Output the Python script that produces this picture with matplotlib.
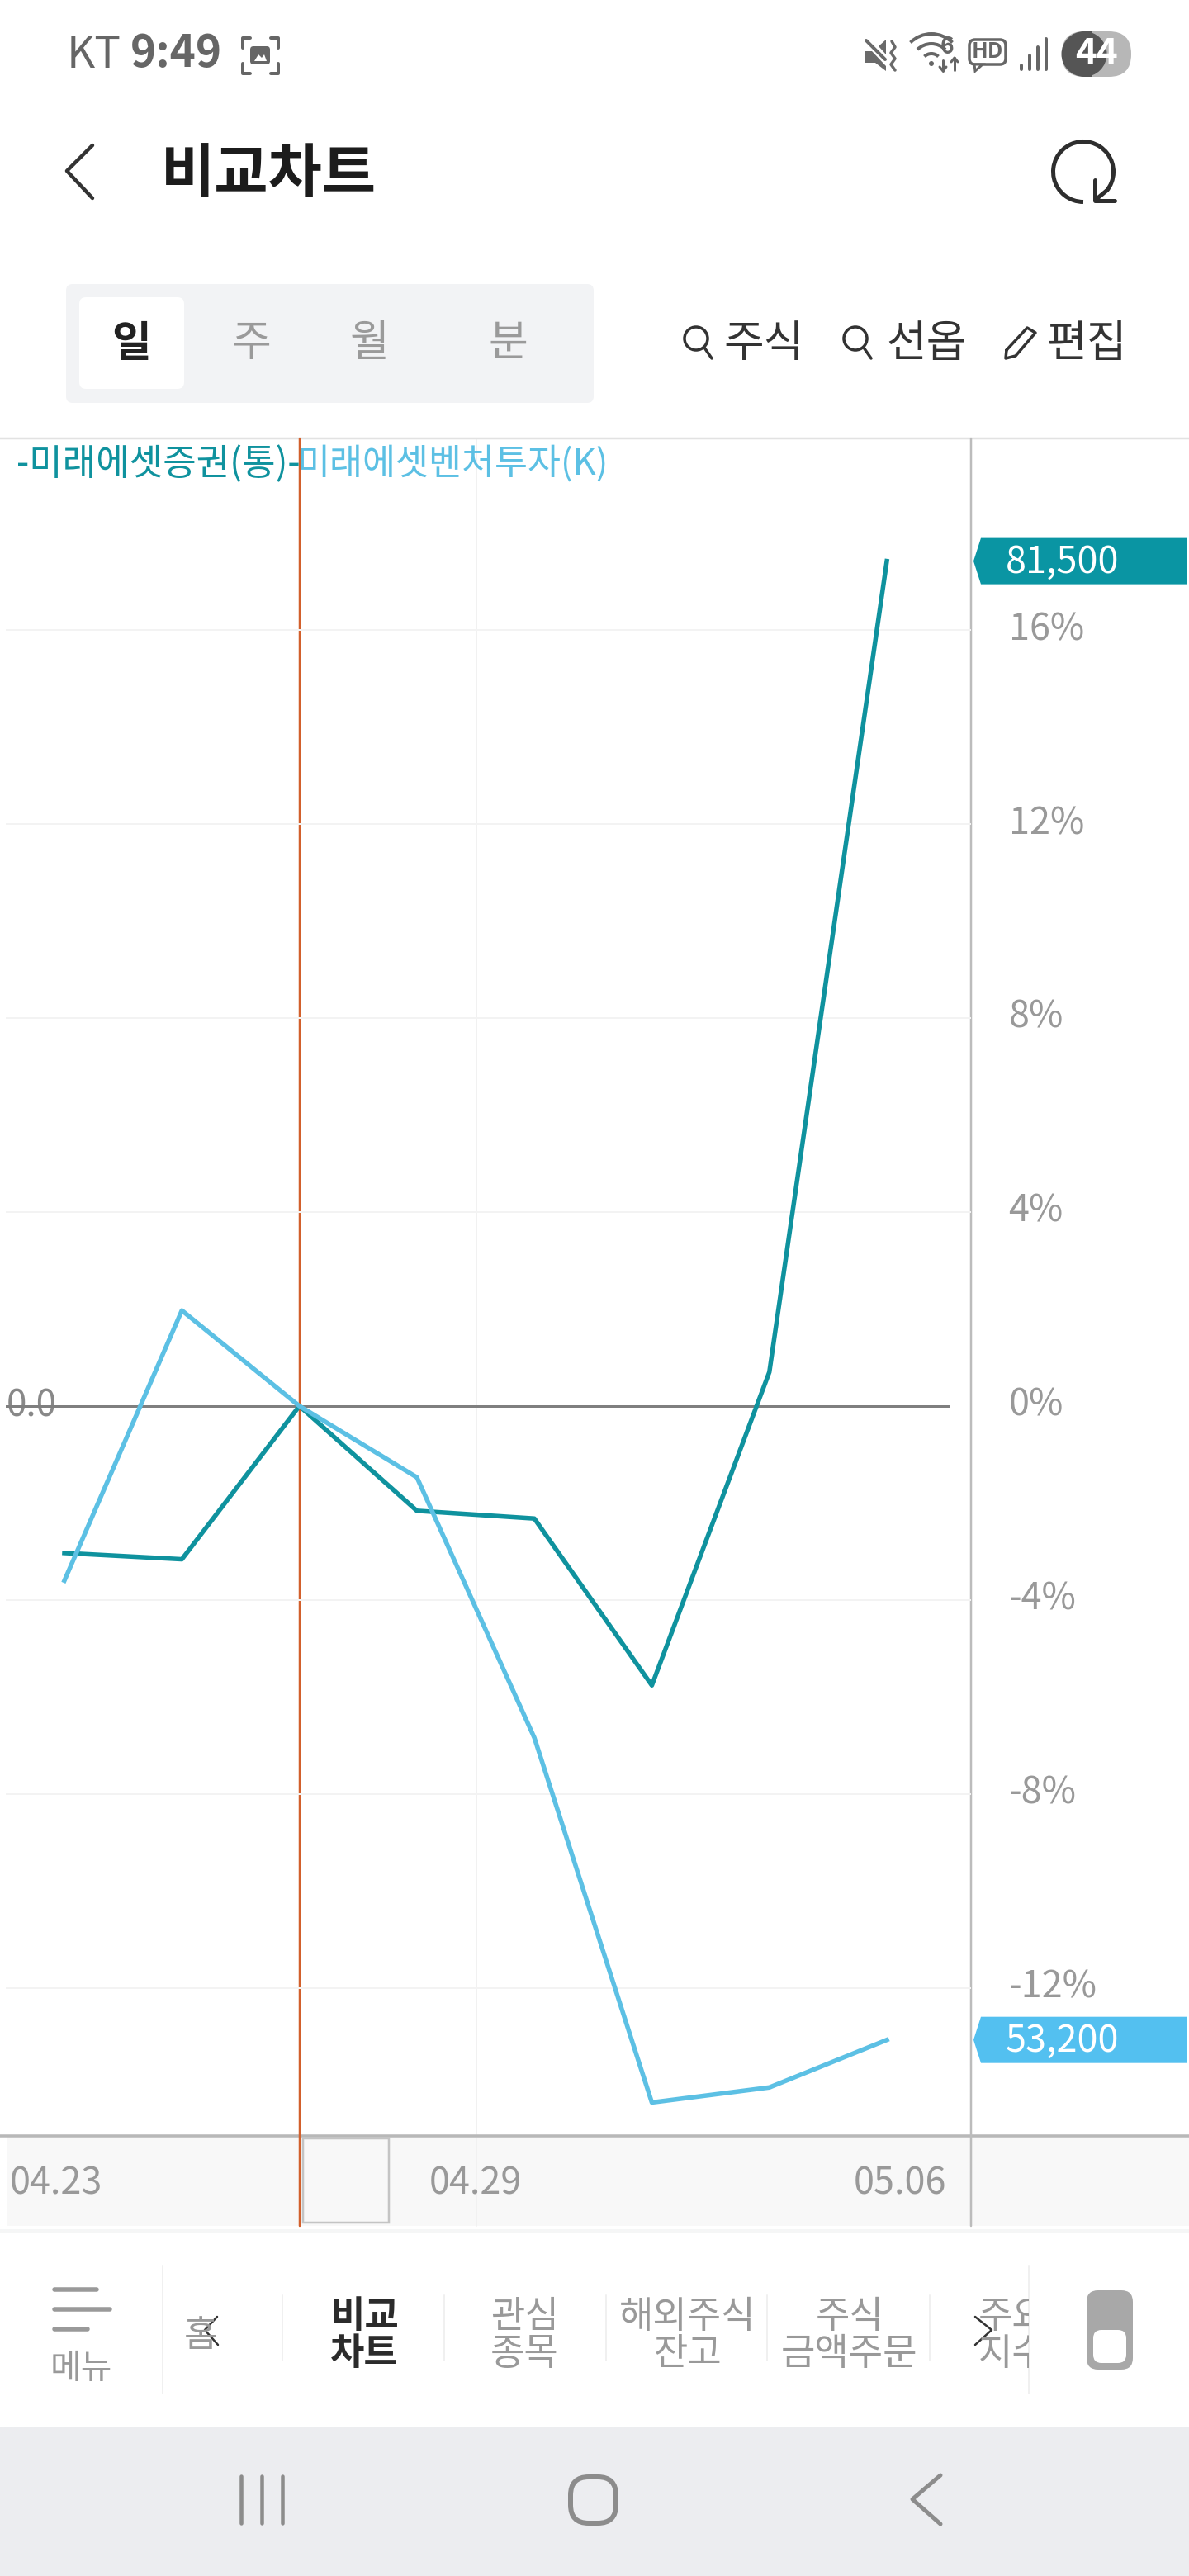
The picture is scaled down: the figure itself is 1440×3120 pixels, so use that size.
import matplotlib
matplotlib.use("Agg")
import matplotlib.pyplot as plt
from matplotlib.patches import Rectangle, FancyBboxPatch, Polygon, Circle, Arc
from matplotlib.transforms import ScaledTranslation

plt.rcParams['font.family'] = ['Noto Sans CJK KR', 'DejaVu Sans']

# DATA
dias = [0, 1, 2, 3, 4, 5, 6, 7]
mirae_증권 = [-3.03, -3.16, 0.0, -2.16, -2.32, -5.76, 0.70, 17.42]
mirae_벤처 = [-3.60, 1.97, 0.0, -1.47, -6.84, -14.36, -14.05, -13.07]
nome_증권 = "-미래에셋증권(통)-"
nome_벤처 = "미래에셋벤처투자(K)"
preco_증권 = "81,500"
preco_벤처 = "53,200"
y_ticks = [-12, -8, -4, 0, 4, 8, 12, 16]
y_labels = ["-12%", "-8%", "-4%", "0%", "4%", "8%", "12%", "16%"]
x_ticks = [-0.07, 3.5, 7.11]
x_labels = ["04.23", "04.29", "05.06"]

TEAL = "#0f929e"
BLUE = "#5cc0e4"
GRAY = "#999999"
W, H = 1440, 3120

fig = plt.figure(figsize=(14.4, 31.2), dpi=100, facecolor="white")


def pt(px):
    return px * 0.72


# fundo em pixels, para a interface do app
bg = fig.add_axes([0, 0, 1, 1], zorder=0)
bg.set_xlim(0, W)
bg.set_ylim(H, 0)
bg.axis("off")


def linha(xs, ys, cor="#333333", lw=4, ax=bg, **kw):
    ax.plot(xs, ys, color=cor, lw=pt(lw), solid_capstyle="round", solid_joinstyle="round", **kw)


def caixa(x0, y0, x1, y1, cor, raio=8, ec="none", lw=0, z=1):
    bg.add_patch(FancyBboxPatch((x0 + raio, y0 + raio), x1 - x0 - 2 * raio, y1 - y0 - 2 * raio,
                                boxstyle="round,pad=%d" % raio, fc=cor, ec=ec, lw=pt(lw), zorder=z))


def texto(x, y, s, px, cor="#333333", ha="center", peso="normal", **kw):
    # a fonte CJK fica um pouco alta, desce 4 px
    return bg.text(x, y + 4, s, fontsize=pt(px), color=cor, ha=ha, va="center", fontweight=peso, **kw)


def lupa(x, y):
    bg.add_patch(Circle((x, y), 14, fc="none", ec="#333333", lw=pt(3.5)))
    linha([x + 10, x + 19], [y + 11, y + 24], lw=3.5)


# barra de status
STATUS = "#666666"
texto(81, 62, "KT", 53, STATUS, ha="left")
texto(158, 62, "9:49", 53, STATUS, ha="left", peso="bold")
for xs, ys in [([294, 294, 303], [58, 46, 46]), ([328, 337, 337], [46, 46, 58]),
               ([294, 294, 303], [77, 89, 89]), ([328, 337, 337], [89, 89, 77])]:
    linha(xs, ys, STATUS, 4)
caixa(303, 56, 327, 78, STATUS, raio=4, z=2)
bg.add_patch(Polygon([[308, 74], [313, 66], [317, 70], [320, 66], [323, 74]], fc="white", ec="none", zorder=3))
# som mudo
bg.add_patch(Polygon([[1047, 62], [1056, 62], [1073, 80], [1073, 86], [1060, 76], [1047, 76]], fc="#6a6a6a"))
bg.add_patch(Polygon([[1064, 56], [1073, 48], [1073, 66]], fc="#6a6a6a"))
linha([1049, 1072], [49, 72], "#6a6a6a", 4)
linha([1080, 1084, 1079, 1084, 1079, 1084], [50, 57, 64, 71, 78, 85], "#6a6a6a", 3.5)
# wifi
for d in (24, 48, 72):
    bg.add_patch(Arc((1128, 77), d, d, theta1=225, theta2=315, ec=STATUS, lw=pt(4)))
bg.add_patch(Circle((1128, 77), 3, fc=STATUS))
texto(1147, 53, "6", 28, STATUS, peso="bold")
linha([1142, 1142], [73, 86], STATUS, 3)
linha([1138, 1142, 1146], [81, 86, 81], STATUS, 3)
linha([1156, 1156], [70, 85], STATUS, 3)
linha([1152, 1156, 1160], [75, 70, 75], STATUS, 3)
# HD
caixa(1174, 48, 1218, 78, "white", raio=7, ec=STATUS, lw=3.5)
bg.add_patch(Polygon([[1180, 78], [1181, 86], [1190, 78]], fc="white", ec=STATUS, lw=pt(3), zorder=2))
texto(1196, 59, "HD", 26, STATUS, peso="bold", zorder=3)
# sinal
for x, y0 in zip([1237, 1247, 1257, 1267], [79, 67, 57, 47]):
    linha([x, x], [y0, 84], STATUS, 4)
# bateria
caixa(1286, 38, 1370, 93, "#b7b7b7", raio=27)
bg.add_patch(Circle((1313, 65.5), 27.5, fc="#555555", ec="none", zorder=2))
bg.add_patch(Rectangle((1313, 38), 9, 55, fc="#555555", ec="none", zorder=2))
texto(1328, 61, "44", 44, "white", peso="bold", zorder=3)

# cabecalho
linha([112, 81, 112], [176, 207, 240], "#333333", 4.5)
texto(195, 208, "비교차트", 71, "#1c1c1c", ha="left", peso="bold")
bg.add_patch(Arc((1312, 208), 73, 73, theta1=90, theta2=400, ec="#2e2e2e", lw=pt(5)))
linha([1326, 1326, 1350], [218, 243, 243], "#2e2e2e", 5)
linha([1328, 1340], [241, 231], "#2e2e2e", 5)

# seletor de periodo
caixa(80, 344, 719, 488, "#f2f3f5")
caixa(96, 360, 223, 471, "white", z=2)
texto(159, 412, "일", 52, "#222222", peso="bold", zorder=3)
texto(304, 412, "주", 52, "#9a9a9a")
texto(448, 412, "월", 52, "#9a9a9a")
texto(615, 412, "분", 52, "#9a9a9a")
lupa(843, 410)
texto(925, 412, "주식", 53)
lupa(1036, 410)
texto(1122, 412, "선옵", 53)
linha([1219, 1244, 1254, 1230, 1218, 1219], [424, 397, 403, 431, 434, 424], lw=3.5)
texto(1316, 412, "편집", 53)

# faixa das datas
bg.add_patch(Rectangle((8, 2587), W - 8, 109, fc="#f8f8f8", ec="none"))
bg.add_patch(Rectangle((0, 2700), W, 5, fc="#f5f6f6", ec="none"))
bg.add_patch(Rectangle((367, 2590), 104, 102, fc="#f8f8f8", ec="#c4c4c4", lw=pt(2.5), zorder=2))
linha([577, 577], [531, 2696], "#f1f1f1", 2)
linha([0, W], [531, 531], "#e2e2e2", 2.5)
linha([0, W], [2587, 2587], "#b8b8b8", 3.5)
linha([1175.5, 1175.5], [531, 2696], "#bcbcbc", 2.5, zorder=3)
linha([363, 363], [531, 2696], "#d2602c", 2.5, zorder=3)

# grafico
ax = fig.add_axes([0, 1 - 2587 / H, 1175.5 / W, (2587 - 531) / H], zorder=1)
ax.patch.set_alpha(0)
ax.set_xlim(-0.548, 7.713)
ax.set_ylim(-15.05, 19.95)
for s in ax.spines.values():
    s.set_visible(False)
for v in y_ticks:
    if v == 0:
        ax.axhline(v, xmin=8 / 1175.5, xmax=1148 / 1175.5, color="#7f7f7f", lw=pt(3), zorder=3)
    else:
        ax.axhline(v, xmin=8 / 1175.5, color="#f3f3f3", lw=pt(2), zorder=1)
ax.plot(dias, mirae_증권, color=TEAL, lw=pt(5.5), zorder=4)
ax.plot(dias, mirae_벤처, color=BLUE, lw=pt(5.5), zorder=5)
ax.yaxis.tick_right()
ax.set_yticks(y_ticks)
ax.set_yticklabels(y_labels, fontsize=pt(45), color=GRAY)
ax.set_xticks(x_ticks)
ax.set_xticklabels(x_labels, fontsize=pt(45), color=GRAY)
ax.tick_params(axis="y", length=0, pad=pt(46))
ax.tick_params(axis="x", length=0, pad=pt(34))
sobe = ScaledTranslation(0, 6 / 100, fig.dpi_scale_trans)
for lab in ax.get_yticklabels():
    lab.set_transform(lab.get_transform() + sobe)
ax.text(8 / 1175.5, 0, "0.0", transform=ax.get_yaxis_transform(), fontsize=pt(44), color="#888888",
        ha="left", va="center", zorder=2)

# etiquetas de preco presas ao ultimo valor de cada serie
for serie, preco, cor in [(mirae_증권, preco_증권, "#0a95a3"), (mirae_벤처, preco_벤처, "#53c0f0")]:
    yc = H - ax.transData.transform((0, serie[-1]))[1]
    bg.add_patch(Polygon([[1179, yc], [1188, yc - 28], [1437, yc - 28], [1437, yc + 28], [1188, yc + 28]],
                         fc=cor, ec="none", zorder=4))
    texto(1287, yc - 3, preco, 45, "white", zorder=5)

texto(20, 558, nome_증권, 44, TEAL, ha="left", zorder=6)
texto(360, 558, nome_벤처, 43.5, BLUE, ha="left", zorder=6)

# menu inferior
for y, x1 in zip([2773, 2797, 2821], [117, 133, 106]):
    linha([66, x1], [y, y], GRAY, 5.5)
texto(98, 2866, "메뉴", 41, GRAY)
for x in (197, 1246):
    linha([x, x], [2744, 2899], "#f0f0f0", 2)
for x in (342, 538, 734, 929, 1126):
    linha([x, x], [2780, 2859], "#f0f0f0", 2)
texto(243, 2825, "홈", 44, GRAY)
linha([263, 248, 264], [2806, 2822, 2840], "#333333", 2.5)
texto(441, 2802, "비교", 45, "#2b2b2b", peso="bold")
texto(441, 2847, "차트", 45, "#2b2b2b", peso="bold")
texto(635, 2802, "관심", 45, GRAY)
texto(635, 2847, "종목", 45, GRAY)
texto(833, 2802, "해외주식", 45, GRAY)
texto(833, 2847, "잔고", 45, GRAY)
texto(1029, 2802, "주식", 45, GRAY)
texto(1029, 2847, "금액주문", 45, GRAY)
corte = Rectangle((1150, 2750), 96, 150, transform=bg.transData)
for y, s in [(2802, "주요"), (2847, "지수")]:
    t = texto(1185, y, s, 45, GRAY, ha="left", clip_on=True)
    t.set_clip_path(corte)
linha([1181, 1201, 1181], [2806, 2822, 2840], "#333333", 2.5)
caixa(1316, 2774, 1372, 2870, "#a8a8a8", raio=14)
caixa(1324, 2822, 1364, 2862, "white", raio=10, z=2)

# navegacao do sistema
bg.add_patch(Rectangle((0, 2940), W, 180, fc="#ecedf0", ec="none"))
for x in (292, 317, 342):
    linha([x, x], [2999, 3056], "#8c8c8c", 4.5)
caixa(691, 3000, 746, 3056, "none", raio=22, ec="#8c8c8c", lw=6)
linha([1139, 1105, 1139], [2998, 3027, 3057], "#8c8c8c", 5)

fig.savefig("out.png", dpi=100, facecolor="white")
